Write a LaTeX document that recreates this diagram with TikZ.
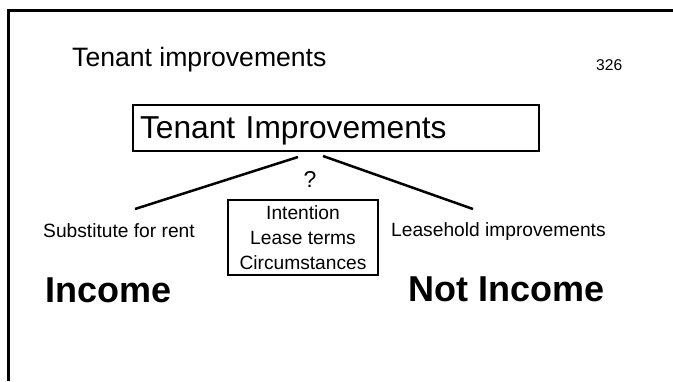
\documentclass[tikz,border=0pt]{standalone}
\usepackage{fontspec}
\setmainfont{Liberation Sans}
\tikzset{
    slideframe/.style={line width=2.7pt},
    box/.style={draw,line width=2.5pt,outer sep=0pt},
    branch/.style={line width=2.5pt},
    txt/.style={inner sep=0pt,anchor=base west},
    small/.style={font=\fontsize{19.2}{23}\selectfont},
    big/.style={font=\bfseries\fontsize{36}{42}\selectfont}
}

\begin{document}
\begin{tikzpicture}[x=1pt,y=-1pt]
    \useasboundingbox (0,0) rectangle (673,381);
    \draw[slideframe] (8.8,381) -- (8.8,10.8) -- (673,10.8);

    \node[txt,font=\fontsize{26.6}{32}\selectfont] (title) at (72,66) {Tenant improvements};
    \node[txt,font=\fontsize{15.6}{19}\selectfont] (page) at (596,70) {326};

    \node[box,anchor=north west,text width=392pt,inner xsep=7pt,minimum height=46pt,
          text height=24pt,text depth=4pt,align=left,font=\fontsize{31.7}{38}\selectfont]
          (ti) at (133,105) {Tenant Improvements};
    \node[font=\fontsize{23}{28}\selectfont] (q) at (310,179) {?};
    \node[box,small,anchor=north west,minimum width=150pt,minimum height=75pt,inner sep=0pt,
          align=center]
          (why) at (228,200) {Intention\\[2pt]Lease terms\\[2pt]Circumstances};

    \node[txt,small] (rent) at (43,237) {Substitute for rent};
    \node[txt,small] (lease) at (391,236) {Leasehold improvements};
    \node[txt,big] (inc) at (45,302) {Income};
    \node[txt,big] (notinc) at (408,301) {Not Income};

    % the two branches under the box
    \coordinate (tileft) at (298,157);
    \coordinate (tiright) at (323,156);
    \coordinate (rentend) at (135,209);
    \coordinate (leaseend) at (473,209);
    \draw[branch] (tileft) -- (rentend);
    \draw[branch] (tiright) -- (leaseend);
\end{tikzpicture}
\end{document}
